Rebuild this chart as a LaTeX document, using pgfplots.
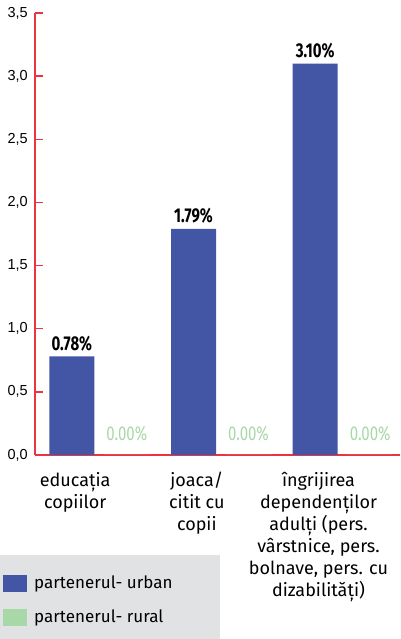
\documentclass[border=0pt]{standalone}
\usepackage{fontspec}
\setmainfont{Fira Sans}
\newfontfamily\tickfont{Liberation Sans}
\newfontfamily\valfont[FakeStretch=0.75]{Fira Sans}
\usepackage{pgfplots}
\pgfplotsset{compat=1.18}

\definecolor{urban}{RGB}{67,86,165}
\definecolor{rural}{RGB}{168,216,168}
\definecolor{axisred}{RGB}{236,52,64}
\definecolor{legendgray}{RGB}{225,226,228}

\begin{document}
\begin{tikzpicture}[x=1pt,y=1pt]
\useasboundingbox (0,0) rectangle (400,639);
% legend panel
\fill[legendgray] (0,0) rectangle (220,84);
\begin{axis}[
  at={(35pt,184pt)}, anchor=south west,
  scale only axis, width=365pt, height=442pt,
  xmin=-0.5, xmax=2.5, ymin=0, ymax=3.5,
  axis x line*=bottom, axis y line*=left,
  axis line style={axisred, line width=1.3pt},
  ybar, bar width=45pt,
  tick align=inside,
  ytick={0,0.5,1,1.5,2,2.5,3,3.5},
  ytick style={axisred, line width=1.3pt},
  major tick length=8pt,
  yticklabel style={font=\tickfont\fontsize{14.5}{16}\selectfont, inner sep=0pt, xshift=-7pt,
    /pgf/number format/.cd, use comma, fixed, fixed zerofill, precision=1, assume math mode=true},
  xtick={-0.17,0.83,1.83},
  xticklabels={{educația\\copiilor},{joaca/\\citit cu\\copii},{îngrijirea\\dependenților\\adulți (pers.\\vârstnice, pers.\\bolnave, pers. cu\\dizabilități)}},
  x tick style={draw=none},
  xticklabel style={font=\fontsize{18}{22}\selectfont, align=center, anchor=north, inner sep=0pt, yshift=-17pt},
  extra x ticks={0.5,1.5},
  extra x tick labels={},
  extra x tick style={major tick length=10pt, tick style={draw=axisred, line width=1.3pt}},
  legend style={at={(axis description cs:-0.0877,-0.2686)}, anchor=north west,
    draw=none, fill=none, inner sep=0pt, row sep=16pt,
    font=\fontsize{17}{20}\selectfont},
  legend cell align=left,
  clip=false,
]
\addplot[fill=urban, draw=none, bar shift=-24pt,
  legend image code/.code={\fill[urban] (0pt,-8.5pt) rectangle (24pt,8.5pt);},
  nodes near coords={\pgfmathprintnumber[fixed,fixed zerofill,precision=2,assume math mode=true]{\pgfplotspointmeta}\%},
  every node near coord/.append style={font=\valfont\bfseries\fontsize{20}{20}\selectfont, text=black, anchor=south, inner sep=0pt, yshift=5pt}]
  coordinates {(0,0.78) (1,1.79) (2,3.10)};
\addlegendentry{\hspace*{5pt}partenerul- urban}
\addplot[fill=rural, draw=none, bar shift=31pt,
  legend image code/.code={\fill[rural] (0pt,-8.5pt) rectangle (24pt,8.5pt);},
  nodes near coords={\pgfmathprintnumber[fixed,fixed zerofill,precision=2,assume math mode=true]{\pgfplotspointmeta}\%},
  every node near coord/.append style={font=\valfont\fontsize{20}{20}\selectfont, text=rural, anchor=south, inner sep=0pt, yshift=14pt}]
  coordinates {(0,0) (1,0) (2,0)};
\addlegendentry{\hspace*{5pt}partenerul- rural}
\end{axis}
\end{tikzpicture}
\end{document}
